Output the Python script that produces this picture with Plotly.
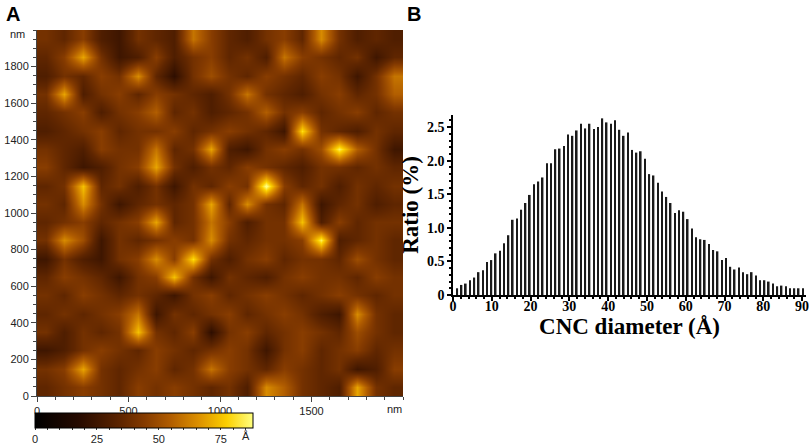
import plotly.graph_objects as go

# AFM height map (A) on a coarse 100 nm grid, rows top to bottom
afm_rows = [
    [40, 35, 45, 30, 25, 40, 35, 30, 60, 45, 35, 30, 40, 45, 35, 65, 40, 30, 35, 30],
    [35, 45, 70, 40, 25, 30, 45, 30, 40, 45, 35, 40, 30, 60, 45, 40, 35, 40, 25, 35],
    [30, 40, 35, 45, 40, 65, 35, 20, 40, 50, 40, 35, 45, 40, 35, 45, 40, 25, 40, 60],
    [40, 70, 30, 40, 45, 35, 45, 40, 35, 30, 40, 60, 40, 35, 30, 40, 45, 35, 40, 55],
    [35, 40, 45, 30, 40, 45, 55, 35, 40, 30, 35, 40, 55, 40, 45, 35, 40, 45, 35, 40],
    [30, 35, 40, 45, 35, 40, 40, 45, 35, 40, 45, 40, 35, 25, 80, 40, 35, 30, 40, 35],
    [40, 35, 30, 45, 40, 40, 60, 35, 40, 70, 30, 25, 40, 45, 40, 50, 85, 55, 40, 25],
    [45, 35, 25, 30, 40, 45, 70, 40, 30, 40, 35, 45, 40, 35, 30, 40, 40, 35, 40, 35],
    [35, 40, 75, 35, 40, 30, 40, 25, 40, 35, 45, 40, 90, 45, 35, 40, 30, 40, 35, 40],
    [40, 35, 65, 40, 25, 35, 40, 35, 40, 70, 35, 65, 40, 35, 60, 25, 35, 40, 30, 35],
    [35, 40, 45, 35, 40, 45, 70, 35, 40, 60, 45, 30, 40, 40, 75, 30, 45, 35, 40, 40],
    [40, 65, 50, 25, 40, 35, 40, 45, 40, 65, 40, 35, 40, 40, 45, 85, 30, 35, 40, 35],
    [25, 40, 30, 25, 40, 45, 65, 45, 80, 40, 30, 40, 45, 35, 40, 40, 35, 50, 40, 35],
    [35, 45, 40, 35, 25, 40, 45, 75, 40, 25, 40, 35, 30, 40, 45, 40, 40, 35, 45, 40],
    [40, 35, 45, 40, 35, 40, 35, 25, 40, 45, 35, 40, 45, 40, 35, 40, 45, 40, 35, 40],
    [35, 40, 35, 40, 45, 60, 25, 40, 35, 40, 45, 35, 40, 45, 40, 30, 25, 65, 40, 35],
    [40, 30, 40, 35, 40, 75, 40, 35, 45, 20, 40, 45, 35, 40, 45, 40, 35, 50, 40, 35],
    [25, 30, 40, 45, 40, 35, 45, 40, 35, 40, 45, 40, 25, 40, 45, 35, 40, 45, 35, 40],
    [40, 45, 70, 40, 35, 40, 45, 35, 40, 60, 45, 40, 35, 45, 40, 35, 40, 25, 30, 45],
    [35, 40, 45, 40, 35, 45, 40, 45, 40, 35, 40, 30, 65, 55, 40, 35, 30, 70, 40, 35],
]
afm_pos_nm = [50, 150, 250, 350, 450, 550, 650, 750, 850, 950,
              1050, 1150, 1250, 1350, 1450, 1550, 1650, 1750, 1850, 1950]

# diameter histogram (B), ratio in % per bin, bins 1.1 A wide starting at 1.1 A
ratio = [
    0.10, 0.15, 0.17, 0.22, 0.26, 0.34, 0.37, 0.49, 0.52, 0.62,
    0.66, 0.77, 0.89, 1.12, 1.14, 1.27, 1.37, 1.49, 1.65, 1.69,
    1.75, 1.96, 1.96, 2.17, 2.18, 2.22, 2.39, 2.37, 2.45, 2.55,
    2.48, 2.55, 2.47, 2.50, 2.63, 2.57, 2.55, 2.60, 2.46, 2.37,
    2.42, 2.16, 2.12, 2.14, 2.03, 1.80, 1.78, 1.67, 1.54, 1.46,
    1.37, 1.22, 1.26, 1.24, 1.13, 0.99, 0.86, 0.83, 0.82, 0.76,
    0.67, 0.65, 0.52, 0.55, 0.42, 0.38, 0.41, 0.34, 0.31, 0.34,
    0.29, 0.22, 0.22, 0.20, 0.17, 0.13, 0.14, 0.13, 0.10, 0.10,
    0.10, 0.10,
]

W, H = 809, 446

afm_scale = [
    [0.0, "#000000"], [0.2, "#260a00"], [0.4, "#602600"], [0.5, "#843a00"],
    [0.62, "#b05c00"], [0.75, "#dc9000"], [0.88, "#fcd000"], [1.0, "#ffff80"],
]

fig = go.Figure()

fig.add_trace(go.Heatmap(
    z=afm_rows[::-1], x=afm_pos_nm, y=afm_pos_nm,
    zmin=0, zmax=88, zsmooth="best", colorscale=afm_scale,
    xaxis="x", yaxis="y", hoverinfo="skip",
    colorbar=dict(
        orientation="h", x=35 / W, xanchor="left", y=1 - 413 / H, yanchor="top",
        len=218 / W, lenmode="fraction", thickness=15, xpad=0, ypad=0,
        outlinecolor="black", outlinewidth=1,
        tickvals=list(range(0, 90, 5)),
        ticktext=["0", "", "", "", "", "25", "", "", "", "", "50", "", "", "", "", "75", "", ""],
        ticks="outside", ticklen=2, tickcolor="#333",
        tickfont=dict(family="Liberation Sans", size=11, color="#222"),
    ),
))

fig.add_trace(go.Bar(
    x0=1.1, dx=1.1, y=ratio, width=0.42,
    marker=dict(color="#1a1a1a", line=dict(width=0)),
    xaxis="x2", yaxis="y2", showlegend=False,
))

sans = dict(family="Liberation Sans", size=11, color="#222")
serif_tick = dict(family="Liberation Serif", size=14, color="black", weight="bold")
serif_title = dict(family="Liberation Serif", size=23, color="black", weight="bold")

fig.update_layout(
    width=W, height=H,
    margin=dict(l=0, r=0, t=0, b=0, autoexpand=False),
    paper_bgcolor="white", plot_bgcolor="white",
    showlegend=False,
    xaxis=dict(
        domain=[37 / W, 403 / W], range=[0, 2000], anchor="y",
        tickvals=[0, 500, 1000, 1500], ticks="outside", ticklen=5, tickcolor="#444",
        minor=dict(dtick=100, ticks="outside", ticklen=3, tickcolor="#444"),
        showline=True, linecolor="#444", showgrid=False, zeroline=False,
        tickfont=sans,
    ),
    yaxis=dict(
        domain=[1 - 396 / H, 1 - 30 / H], range=[0, 2000], anchor="x",
        tickvals=list(range(0, 2000, 200)), ticks="outside", ticklen=5, tickcolor="#444",
        minor=dict(dtick=50, ticks="outside", ticklen=3, tickcolor="#444"),
        showline=True, linecolor="#444", showgrid=False, zeroline=False,
        tickfont=sans,
    ),
    xaxis2=dict(
        domain=[453 / W, 806 / W], range=[0, 91], anchor="y2",
        dtick=10, tick0=0, ticks="outside", ticklen=4, tickwidth=1.5, tickcolor="black",
        minor=dict(dtick=2, ticks="outside", ticklen=2, tickcolor="black"),
        showline=True, linecolor="black", linewidth=1.5, showgrid=False, zeroline=False,
        tickfont=serif_tick, ticklabeloverflow="allow", ticklabelstandoff=-7,
        title=dict(text="CNC diameter (Å)", font=serif_title, standoff=0),
    ),
    yaxis2=dict(
        domain=[1 - 295 / H, 1 - 115 / H], range=[0, 2.68], anchor="x2",
        tickvals=[0, 0.5, 1.0, 1.5, 2.0, 2.5], ticktext=["0", "0.5", "1.0", "1.5", "2.0", "2.5"],
        ticks="outside", ticklen=4, tickwidth=1.5, tickcolor="black",
        minor=dict(dtick=0.1, ticks="outside", ticklen=2, tickcolor="black"),
        showline=True, linecolor="black", linewidth=1.5, showgrid=False, zeroline=False,
        tickfont=serif_tick,
        title=dict(text="Ratio (%)", font=serif_title, standoff=2),
    ),
    annotations=[
        dict(text="<b>A</b>", x=4 / W, y=1 - 14 / H, xref="paper", yref="paper",
             xanchor="left", yanchor="middle", showarrow=False,
             font=dict(family="Liberation Sans", size=20, color="black")),
        dict(text="<b>B</b>", x=405 / W, y=1 - 14 / H, xref="paper", yref="paper",
             xanchor="left", yanchor="middle", showarrow=False,
             font=dict(family="Liberation Sans", size=20, color="black")),
        dict(text="nm", x=27 / W, y=1 - 34 / H, xref="paper", yref="paper",
             xanchor="right", yanchor="middle", showarrow=False, font=sans),
        dict(text="nm", x=394 / W, y=1 - 409 / H, xref="paper", yref="paper",
             xanchor="center", yanchor="middle", showarrow=False, font=sans),
        dict(text="Å", x=246 / W, y=1 - 436 / H, xref="paper", yref="paper",
             xanchor="center", yanchor="middle", showarrow=False, font=sans),
    ],
)

# drop the page's default body margin so the figure sits at the window corner
fig.write_html("out.html", config={"displayModeBar": False},
               post_script="document.body.style.margin='0';")
